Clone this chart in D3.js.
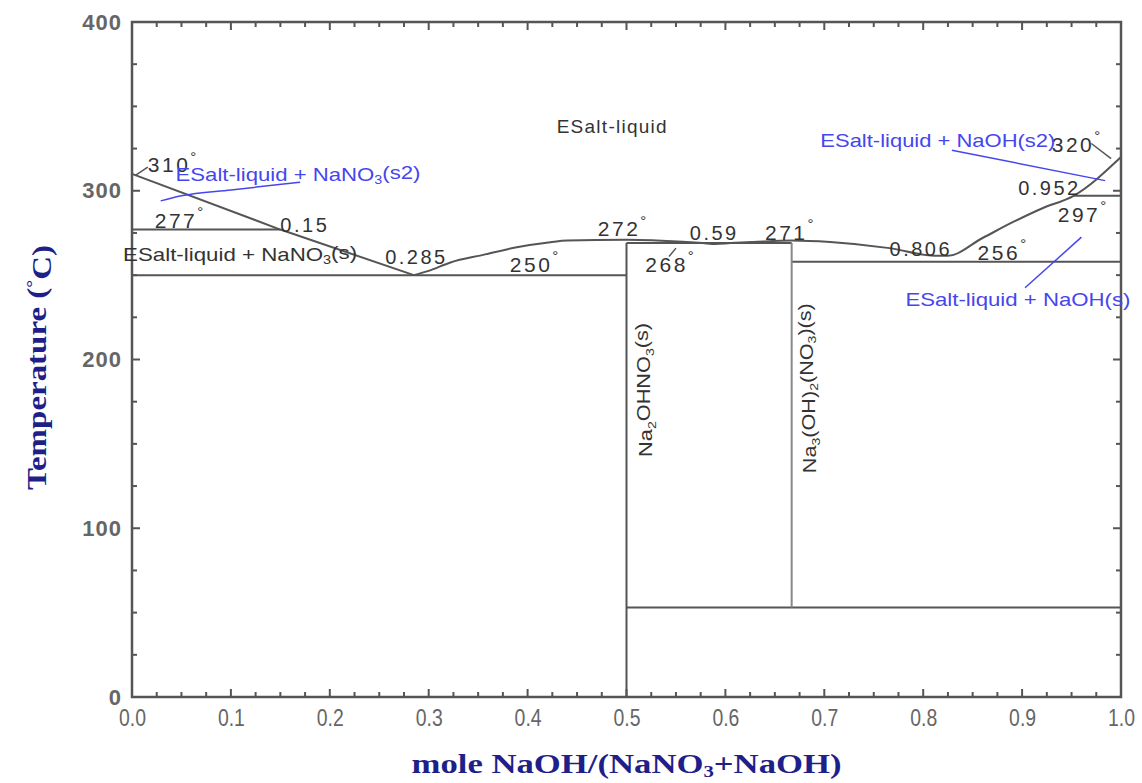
<!DOCTYPE html>
<html>
<head>
<meta charset="utf-8">
<script src="https://cdn.jsdelivr.net/npm/d3@7"></script>
<style>
  body { margin: 0; background: #fff; }
  svg text { font-family: "Liberation Sans", Arial, sans-serif; }
</style>
</head>
<body>
<div id="chart"></div>
<script>
// liquidus curve (mole fraction NaOH, temperature C)
const liqX = [0, 0.15, 0.285, 0.30, 0.322, 0.355, 0.389, 0.423, 0.44, 0.5, 0.557, 0.577, 0.59, 0.605, 0.628, 0.667, 0.706, 0.766, 0.812, 0.825, 0.86, 0.891, 0.92, 0.952, 1.0];
const liqT = [310, 277, 250, 252.5, 257.5, 262, 266.5, 269.5, 270.5, 271, 269.8, 269, 268.5, 269, 269.6, 270.5, 269.6, 266, 261.5, 261.5, 272, 281.5, 289.5, 297, 320];

// invariant horizontal lines
const isoX1 = [0, 0, 0.5, 0.667, 0.952, 0.5];
const isoX2 = [0.15, 0.5, 0.667, 1.0, 1.0, 1.0];
const isoT = [277, 250, 269, 258, 297, 53];

// compound vertical lines
const vertX = [0.5, 0.667];
const vertT0 = [0, 53];
const vertT1 = [269, 269];

// temperature labels
const degVal = ["310", "277", "250", "272", "268", "271", "256", "297", "320"];
const degX = [0.016, 0.023, 0.382, 0.471, 0.519, 0.640, 0.855, 0.936, 0.930];
const degT = [311, 278, 252, 273, 252, 271, 259, 281.5, 323];

// composition labels
const compVal = ["0.15", "0.285", "0.59", "0.806", "0.952"];
const compX = [0.150, 0.256, 0.564, 0.766, 0.896];
const compT = [275.6, 256.6, 270.8, 261.3, 297.5];

// axis ticks
const xTicks = d3.range(0, 1.0001, 0.1);
const xMinor = d3.range(0, 1.0001, 0.025);
const yTicks = [0, 100, 200, 300, 400];
const yMinor = d3.range(0, 401, 25);

const width = 1142, height = 783;
const margin = { left: 132, right: 21, top: 22, bottom: 86 };

const svg = d3.select("#chart").append("svg")
    .attr("width", width)
    .attr("height", height);

const x = d3.scaleLinear().domain([0, 1]).range([margin.left, width - margin.right]);
const y = d3.scaleLinear().domain([0, 400]).range([height - margin.bottom, margin.top]);

const axisCol = "#555";
const textCol = "#333";
const blue = "#4646ee";
const navy = "#1f1f8a";

// tick labels from d3 axes (no lines)
svg.append("g")
    .attr("transform", `translate(0,${y(0)})`)
    .call(d3.axisBottom(x).tickValues(xTicks).tickSize(0).tickPadding(13).tickFormat(d3.format(".1f")))
    .call(g => g.select(".domain").remove())
    .call(g => g.selectAll("text")
        .attr("fill", "#666")
        .attr("textLength", 27)
        .attr("lengthAdjust", "spacingAndGlyphs")
        .style("font-size", "23px"));

svg.append("g")
    .attr("transform", `translate(${x(0)},0)`)
    .call(d3.axisLeft(y).tickValues(yTicks).tickSize(0).tickPadding(10).tickFormat(d3.format("d")))
    .call(g => g.select(".domain").remove())
    .call(g => g.selectAll("text")
        .attr("fill", "#666")
        .style("font-size", "22px")
        .style("font-weight", "bold")
        .style("letter-spacing", "1px"));

// inward tick marks on all four sides
const ticks = svg.append("g").attr("stroke", axisCol).attr("stroke-width", 2);
const xLen = d => (Math.abs(d * 10 - Math.round(d * 10)) < 1e-6 ? 8 : 5);
const yLen = d => (d % 100 === 0 ? 8 : 5);
ticks.selectAll("line.xb")
    .data(xMinor)
    .join("line")
    .attr("class", "xb")
    .attr("x1", d => x(d)).attr("x2", d => x(d))
    .attr("y1", y(0)).attr("y2", d => y(0) - xLen(d));
ticks.selectAll("line.xt")
    .data(xMinor)
    .join("line")
    .attr("class", "xt")
    .attr("x1", d => x(d)).attr("x2", d => x(d))
    .attr("y1", y(400)).attr("y2", d => y(400) + xLen(d));
ticks.selectAll("line.yl")
    .data(yMinor)
    .join("line")
    .attr("class", "yl")
    .attr("y1", d => y(d)).attr("y2", d => y(d))
    .attr("x1", x(0)).attr("x2", d => x(0) + yLen(d));
ticks.selectAll("line.yr")
    .data(yMinor)
    .join("line")
    .attr("class", "yr")
    .attr("y1", d => y(d)).attr("y2", d => y(d))
    .attr("x1", x(1)).attr("x2", d => x(1) - yLen(d));

// frame
svg.append("rect")
    .attr("x", x(0))
    .attr("y", y(400))
    .attr("width", x(1) - x(0))
    .attr("height", y(0) - y(400))
    .attr("fill", "none")
    .attr("stroke", axisCol)
    .attr("stroke-width", 2.5);

// invariant lines
svg.append("g").selectAll("line")
    .data(isoT)
    .join("line")
    .attr("x1", (d, i) => x(isoX1[i]))
    .attr("x2", (d, i) => x(isoX2[i]))
    .attr("y1", d => y(d))
    .attr("y2", d => y(d))
    .attr("stroke", "#555")
    .attr("stroke-width", 2);

svg.append("g").selectAll("line")
    .data(vertX)
    .join("line")
    .attr("x1", d => x(d))
    .attr("x2", d => x(d))
    .attr("y1", (d, i) => y(vertT0[i]))
    .attr("y2", (d, i) => y(vertT1[i]))
    .attr("stroke", (d, i) => i === 0 ? "#555" : "#888")
    .attr("stroke-width", 2);

// liquidus: straight NaNO3 branch, smooth remainder
const liq = liqX.map((v, i) => [v, liqT[i]]);
const liqLine = d3.line().x(d => x(d[0])).y(d => y(d[1]));
svg.append("path")
    .datum(liq.slice(0, 3))
    .attr("d", liqLine)
    .attr("fill", "none")
    .attr("stroke", "#555")
    .attr("stroke-width", 2);
svg.append("path")
    .datum(liq.slice(2))
    .attr("d", liqLine.curve(d3.curveMonotoneX))
    .attr("fill", "none")
    .attr("stroke", "#555")
    .attr("stroke-width", 2);

// short black leaders for some labels
const leaders = [[[0.003, 309], [0.016, 314]], [[0.99, 319], [0.97, 328]], [[0.55, 266], [0.543, 261]]];
svg.append("g").selectAll("path")
    .data(leaders)
    .join("path")
    .attr("d", d3.line().x(d => x(d[0])).y(d => y(d[1])))
    .attr("fill", "none")
    .attr("stroke", "#555")
    .attr("stroke-width", 1.5);

// temperature labels with degree sign
const degLabels = svg.append("g").selectAll("text")
    .data(degVal)
    .join("text")
    .attr("x", (d, i) => x(degX[i]))
    .attr("y", (d, i) => y(degT[i]))
    .attr("fill", textCol)
    .style("font-size", "21px")
    .style("letter-spacing", "2.5px");
degLabels.append("tspan").text(d => d);
degLabels.append("tspan")
    .attr("dy", "-0.7em")
    .style("font-size", "15px")
    .text("°");

svg.append("g").selectAll("text")
    .data(compVal)
    .join("text")
    .attr("x", (d, i) => x(compX[i]))
    .attr("y", (d, i) => y(compT[i]))
    .attr("fill", textCol)
    .style("font-size", "20px")
    .style("letter-spacing", "2.5px")
    .text(d => d);

// region labels
function subLabel(sel, parts) {
    parts.forEach(p => {
        const t = sel.append("tspan").text(p[0]);
        if (p[1] === "sub") t.attr("dy", "0.3em").style("font-size", "0.65em");
        if (p[1] === "back") t.attr("dy", "-0.3em");
    });
}

svg.append("text")
    .attr("x", x(0.485))
    .attr("y", y(334))
    .attr("text-anchor", "middle")
    .attr("fill", textCol)
    .attr("textLength", 110)
    .style("font-size", "19px")
    .text("ESalt-liquid");

const regionLabels = [
    { parts: [["ESalt-liquid + NaNO"], ["3", "sub"], ["(s)", "back"]], vx: -0.009, vt: 258.5, len: 234, col: textCol },
    { parts: [["ESalt-liquid + NaNO"], ["3", "sub"], ["(s2)", "back"]], vx: 0.044, vt: 306, len: 245, col: blue },
    { parts: [["ESalt-liquid + NaOH(s2)"]], vx: 0.696, vt: 326, len: 235, col: blue },
    { parts: [["ESalt-liquid + NaOH(s)"]], vx: 0.782, vt: 232, len: 225, col: blue }
];
regionLabels.forEach(r => {
    const t = svg.append("text")
        .attr("x", x(r.vx))
        .attr("y", y(r.vt))
        .attr("fill", r.col)
        .attr("textLength", r.len)
        .attr("lengthAdjust", "spacingAndGlyphs")
        .style("font-size", "19px");
    subLabel(t, r.parts);
});

// blue leader lines
const blueLeaders = [
    [[0.029, 294], [0.05, 297], [0.1, 300.5], [0.17, 305]],
    [[0.829, 324], [0.984, 306]],
    [[0.903, 242.5], [0.96, 272.5]]
];
svg.append("g").selectAll("path")
    .data(blueLeaders)
    .join("path")
    .attr("d", d3.line().curve(d3.curveMonotoneX).x(d => x(d[0])).y(d => y(d[1])))
    .attr("fill", "none")
    .attr("stroke", blue)
    .attr("stroke-width", 1.5);

// compound labels, rotated
const compounds = [
    { parts: [["Na"], ["2", "sub"], ["OHNO", "back"], ["3", "sub"], ["(s)", "back"]], vx: 0.526, vt: 182, len: 134 },
    { parts: [["Na"], ["3", "sub"], ["(OH)", "back"], ["2", "sub"], ["(NO", "back"], ["3", "sub"], [")(s)", "back"]], vx: 0.692, vt: 183, len: 170 }
];
compounds.forEach(c => {
    const t = svg.append("text")
        .attr("transform", `translate(${x(c.vx)},${y(c.vt)}) rotate(-90)`)
        .attr("text-anchor", "middle")
        .attr("fill", textCol)
        .attr("textLength", c.len)
        .attr("lengthAdjust", "spacingAndGlyphs")
        .style("font-size", "18px");
    subLabel(t, c.parts);
});

// axis titles
const yTitle = svg.append("text")
    .attr("transform", `translate(46,${(y(0) + y(400)) / 2 + 8}) rotate(-90)`)
    .attr("text-anchor", "middle")
    .attr("fill", navy)
    .attr("textLength", 245)
    .attr("lengthAdjust", "spacingAndGlyphs")
    .style("font-family", "'Liberation Serif', 'Times New Roman', serif")
    .style("font-weight", "bold")
    .style("font-size", "28px");
yTitle.append("tspan").text("Temperature (");
yTitle.append("tspan").attr("dy", "-0.45em").style("font-size", "0.6em").text("°");
yTitle.append("tspan").attr("dy", "0.45em").text("C)");

const xTitle = svg.append("text")
    .attr("x", (x(0) + x(1)) / 2)
    .attr("y", 773)
    .attr("text-anchor", "middle")
    .attr("fill", navy)
    .attr("textLength", 430)
    .attr("lengthAdjust", "spacingAndGlyphs")
    .style("font-family", "'Liberation Serif', 'Times New Roman', serif")
    .style("font-weight", "bold")
    .style("font-size", "28px");
xTitle.append("tspan").text("mole NaOH/(NaNO");
xTitle.append("tspan").attr("dy", "0.25em").style("font-size", "0.6em").text("3");
xTitle.append("tspan").attr("dy", "-0.15em").text("+NaOH)");
</script>
</body>
</html>
